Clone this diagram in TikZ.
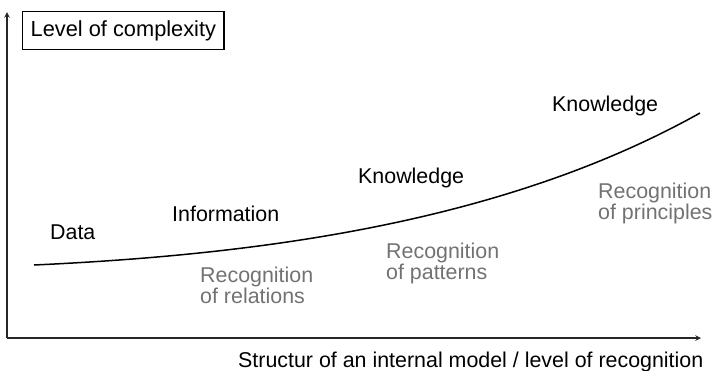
\documentclass[tikz,border=0pt]{standalone}
\usepackage{fontspec}
\setmainfont{Liberation Sans}
\definecolor{textgray}{HTML}{727272}
\tikzset{
  stage/.style={anchor=base west,inner sep=0pt,font=\fontsize{21.4}{20}\selectfont},
  recog/.style={anchor=north west,inner sep=0pt,align=left,text=textgray,font=\fontsize{21.4}{20.5}\selectfont},
  axisline/.style={->,line width=1.5pt,draw=black!85},
}
\begin{document}
\begin{tikzpicture}[x=1pt,y=-1pt,>=stealth]
\useasboundingbox (0,0) rectangle (719,370);

\coordinate (o) at (7,338);
\coordinate (ytop) at (7,12);
\coordinate (xend) at (701,338);
\draw[axisline] (o)--(ytop);
\draw[axisline] (o)--(xend);

\node[draw,line width=1.4pt,anchor=north west,inner xsep=8pt,minimum height=38pt,
      font=\fontsize{21.8}{24}\selectfont] (ylabel) at (22,11) {Level of complexity};
\node[stage] (xlabel) at (238,367) {Structur of an internal model / level of recognition};

\coordinate (c0) at (34,265);
\coordinate (c1) at (250,255);
\coordinate (c2) at (500,225);
\coordinate (c3) at (700,113);
\draw[line width=1.5pt] (c0) .. controls (c1) and (c2) .. (c3);

\node[stage] (data) at (50,239) {Data};
\node[stage] (info) at (172,221) {Information};
\node[stage] (know1) at (358,183) {Knowledge};
\node[stage] (know2) at (552,111) {Knowledge};

\node[recog] (relations) at (200,267) {Recognition\\of relations};
\node[recog] (patterns) at (386,243) {Recognition\\of patterns};
\node[recog] (principles) at (598,183) {Recognition\\of principles};
\end{tikzpicture}
\end{document}
